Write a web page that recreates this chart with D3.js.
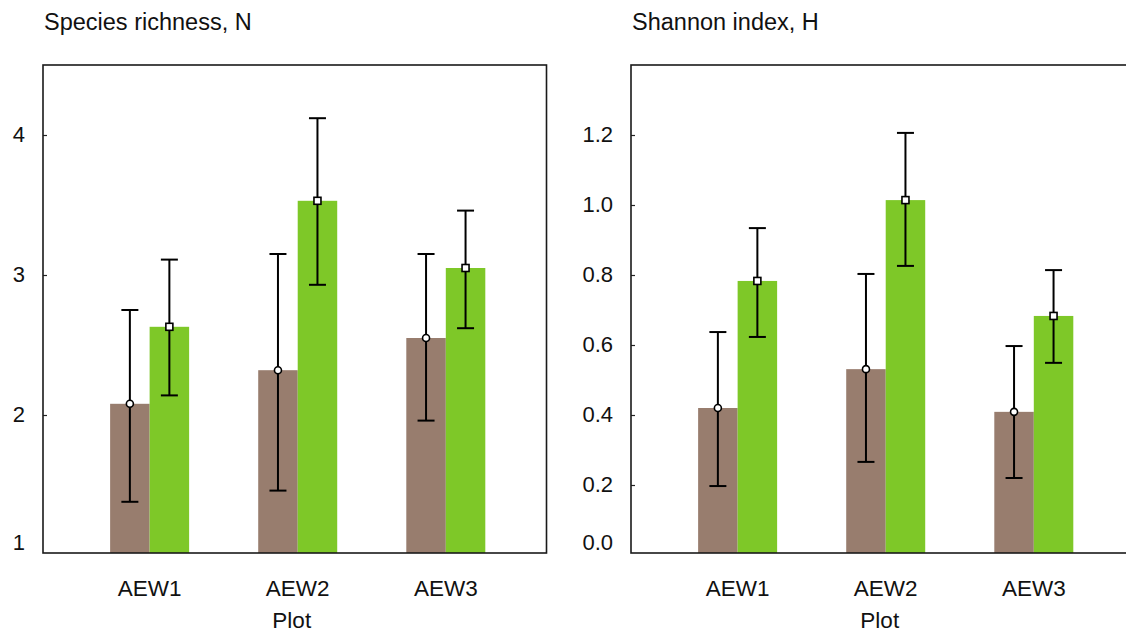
<!DOCTYPE html>
<html>
<head>
<meta charset="utf-8">
<script src="https://cdn.jsdelivr.net/npm/d3@7"></script>
<style>
  body { margin: 0; background: #fff; }
  svg { display: block; font-family: "Liberation Sans", Arial, sans-serif; }
</style>
</head>
<body>
<div id="chart"></div>
<script>
// plots and the two treatments (brown = circle marker, green = square marker)
var plots = ["AEW1", "AEW2", "AEW3"];
var groups = ["a", "b"];

// species richness N : mean, lower, upper
var richMean = [[2.08, 2.63], [2.32, 3.53], [2.55, 3.05]];
var richLow  = [[1.38, 2.14], [1.46, 2.93], [1.96, 2.62]];
var richHigh = [[2.75, 3.11], [3.15, 4.12], [3.15, 3.46]];
var richTicks = [1, 2, 3, 4];

// Shannon index H : mean, lower, upper
var shanMean = [[0.42, 0.783], [0.531, 1.014], [0.409, 0.683]];
var shanLow  = [[0.197, 0.623], [0.266, 0.826], [0.22, 0.549]];
var shanHigh = [[0.637, 0.934], [0.803, 1.206], [0.597, 0.814]];
var shanTicks = [0, 0.2, 0.4, 0.6, 0.8, 1.0, 1.2];

var colors = {a: "#987d6e", b: "#7ec828"};

var W = 1126, H = 633;
var pw = 503.5, ph = 488;

var svg = d3.select("#chart").append("svg")
  .attr("width", W)
  .attr("height", H);

function panel(left, title, mean, low, high, ticks, domain, fmt) {
  var g = svg.append("g").attr("transform", "translate(" + left + ",65)");

  var x = d3.scaleBand()
    .domain(plots)
    .range([0, pw])
    .paddingInner(0)
    .paddingOuter(0.2)
    .align(0.55);

  var x1 = d3.scaleBand()
    .domain(groups)
    .range([0, 79]);

  var y = d3.scaleLinear()
    .domain(domain)
    .range([ph + 2, 0]);

  // rows flattened
  var rows = [];
  plots.forEach(function(p, i) {
    groups.forEach(function(k, j) {
      rows.push({plot: p, grp: k, m: mean[i][j], lo: low[i][j], hi: high[i][j]});
    });
  });
  function cx(d) {
    return x(d.plot) + x.bandwidth() / 2 - 39.5 + x1(d.grp) + x1.bandwidth() / 2;
  }

  // bars
  g.selectAll(".bar")
    .data(rows)
    .enter().append("rect")
    .attr("class", "bar")
    .attr("x", function(d) { return x(d.plot) + x.bandwidth() / 2 - 39.5 + x1(d.grp); })
    .attr("width", x1.bandwidth())
    .attr("y", function(d) { return y(d.m); })
    .attr("height", function(d) { return ph - y(d.m); })
    .style("fill", function(d) { return colors[d.grp]; });

  // error bars
  var eb = g.selectAll(".err").data(rows).enter().append("g").attr("class", "err")
    .style("stroke", "#000").style("stroke-width", 2);
  eb.append("line")
    .attr("x1", cx).attr("x2", cx)
    .attr("y1", function(d) { return y(d.lo); })
    .attr("y2", function(d) { return y(d.hi); });
  eb.append("line")
    .attr("x1", function(d) { return cx(d) - 8.5; })
    .attr("x2", function(d) { return cx(d) + 8.5; })
    .attr("y1", function(d) { return y(d.lo); })
    .attr("y2", function(d) { return y(d.lo); });
  eb.append("line")
    .attr("x1", function(d) { return cx(d) - 8.5; })
    .attr("x2", function(d) { return cx(d) + 8.5; })
    .attr("y1", function(d) { return y(d.hi); })
    .attr("y2", function(d) { return y(d.hi); });

  // markers
  g.selectAll(".dot")
    .data(rows.filter(function(d) { return d.grp == "a"; }))
    .enter().append("circle")
    .attr("cx", cx)
    .attr("cy", function(d) { return y(d.m); })
    .attr("r", 3.5)
    .style("fill", "#fff").style("stroke", "#000").style("stroke-width", 1.6);
  g.selectAll(".sq")
    .data(rows.filter(function(d) { return d.grp == "b"; }))
    .enter().append("rect")
    .attr("x", function(d) { return cx(d) - 3.5; })
    .attr("y", function(d) { return y(d.m) - 3.5; })
    .attr("width", 7).attr("height", 7)
    .style("fill", "#fff").style("stroke", "#000").style("stroke-width", 1.6);

  // y axis: inward ticks, labels outside
  var ya = g.append("g")
    .call(d3.axisRight(y).tickValues(ticks.filter(function(t) { return y(t) <= ph; })).tickSize(4).tickFormat(""));
  ya.select(".domain").remove();
  ya.selectAll("line").style("stroke", "#222").style("stroke-width", 1.2);

  g.selectAll(".ylab")
    .data(ticks)
    .enter().append("text")
    .attr("x", -18)
    .attr("y", function(t) { return Math.min(y(t), ph - 10); })
    .attr("dy", "0.32em")
    .attr("text-anchor", "end")
    .style("font-size", "22px")
    .style("fill", "#111")
    .text(fmt);

  // x labels
  var xa = g.append("g")
    .attr("transform", "translate(0," + ph + ")")
    .call(d3.axisBottom(x).tickSize(0).tickPadding(27));
  xa.select(".domain").remove();
  xa.selectAll("text")
    .attr("dy", "0.71em")
    .style("font-size", "22.5px")
    .style("fill", "#111")
    .style("font-family", "\"Liberation Sans\", Arial, sans-serif");

  // frame
  g.append("rect")
    .attr("width", pw).attr("height", ph)
    .style("fill", "none").style("stroke", "#1a1a1a").style("stroke-width", 1.6);

  g.append("text")
    .attr("x", pw / 2 - 3)
    .attr("y", ph + 75)
    .attr("text-anchor", "middle")
    .style("font-size", "22.5px")
    .style("fill", "#111")
    .text("Plot");

  g.append("text")
    .attr("x", 1)
    .attr("y", -35)
    .style("font-size", "23.5px")
    .style("fill", "#111")
    .text(title);
}

panel(43, "Species richness, N", richMean, richLow, richHigh, richTicks, [1, 4.5], d3.format("d"));
panel(631, "Shannon index, H", shanMean, shanLow, shanHigh, shanTicks, [0, 1.4], d3.format(".1f"));
</script>
</body>
</html>
